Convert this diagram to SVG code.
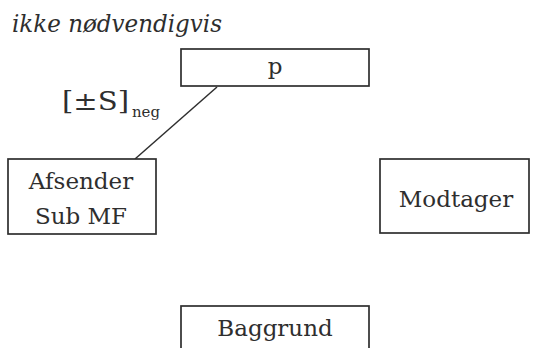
<svg xmlns="http://www.w3.org/2000/svg" width="536" height="348" viewBox="0 0 536 348">
  <style>
    .box { fill: #fff; stroke: #2e2e2e; stroke-width: 1.7; }
    .lbl { font-family: 'DejaVu Serif', 'Liberation Serif', serif; font-size: 23px; fill: #2e2e2e; text-anchor: middle; }
    .title { font-family: 'DejaVu Serif', 'Liberation Serif', serif; font-style: italic; font-size: 24px; fill: #2e2e2e; }
    .edge { stroke: #2e2e2e; stroke-width: 1.5; fill: none; }
    .tag { font-family: 'DejaVu Serif', 'Liberation Serif', serif; fill: #2e2e2e; }
  </style>
  <rect width="536" height="348" fill="#fff"/>

  <text class="title" x="12" y="32" textLength="210" lengthAdjust="spacingAndGlyphs">ikke nødvendigvis</text>

  <g id="connectors">
    <line class="edge" x1="217" y1="87" x2="135" y2="159"/>
    <text class="tag" x="62" y="110" font-size="26" textLength="67" lengthAdjust="spacingAndGlyphs">[±S]</text>
    <text class="tag" x="132" y="117" font-size="14" textLength="28" lengthAdjust="spacingAndGlyphs">neg</text>
  </g>

  <g id="p">
    <rect class="box" x="181" y="49" width="188" height="37"/>
    <text class="lbl" x="275" y="74">p</text>
  </g>

  <g id="afsender">
    <rect class="box" x="8" y="159" width="148" height="75"/>
    <text class="lbl" x="81" y="189">Afsender</text>
    <text class="lbl" x="81" y="224">Sub MF</text>
  </g>

  <g id="modtager">
    <rect class="box" x="380" y="159" width="149" height="74"/>
    <text class="lbl" x="456" y="207">Modtager</text>
  </g>

  <g id="baggrund">
    <rect class="box" x="181" y="306" width="188" height="50"/>
    <text class="lbl" x="275" y="336">Baggrund</text>
  </g>
</svg>
